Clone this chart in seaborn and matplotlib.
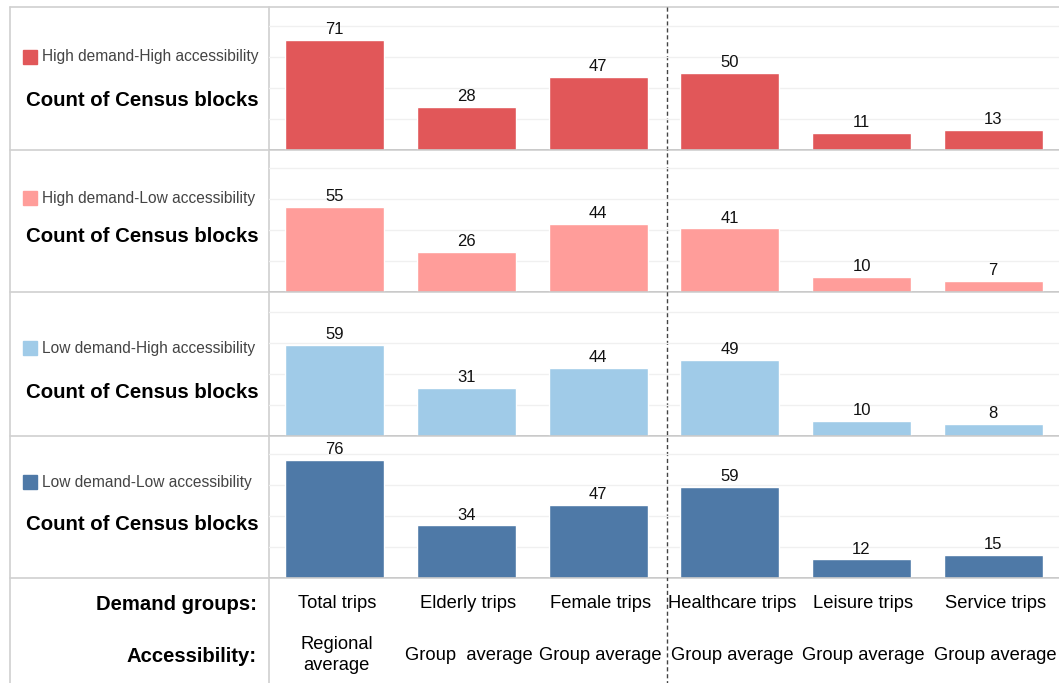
import matplotlib.pyplot as plt
import pandas as pd
import seaborn as sns
from matplotlib.patches import Rectangle

# data
demand_groups = ["Total trips", "Elderly trips", "Female trips",
                 "Healthcare trips", "Leisure trips", "Service trips"]
accessibility = ["Regional\naverage", "Group  average", "Group average",
                 "Group average", "Group average", "Group average"]
segments = ["High demand-High accessibility", "High demand-Low accessibility",
            "Low demand-High accessibility", "Low demand-Low accessibility"]
high_high = [71, 28, 47, 50, 11, 13]
high_low = [55, 26, 44, 41, 10, 7]
low_high = [59, 31, 44, 49, 10, 8]
low_low = [76, 34, 47, 59, 12, 15]
colors = ["#E15759", "#FF9D9A", "#A0CBE8", "#4E79A7"]

W, H = 1059, 683
row_edges = [7, 150, 292, 436, 578]
left_x, split_x = 10, 269
px_per_unit = 1.55

sns.set_theme(style="white")
plt.rcParams["font.family"] = ["Liberation Sans", "DejaVu Sans"]
plt.rcParams["text.color"] = "#000000"

fig = plt.figure(figsize=(W / 100, H / 100), dpi=100)

# background axes in pixel coordinates for the table frame and labels
bg = fig.add_axes([0, 0, 1, 1])
bg.set_xlim(0, W)
bg.set_ylim(H, 0)
bg.axis("off")

line_kw = dict(color="#D0D0D0", lw=1.2, zorder=1)
for y in row_edges:
    bg.plot([left_x, W], [y, y], **line_kw)
bg.plot([left_x, left_x], [row_edges[0], H], **line_kw)
bg.plot([split_x, split_x], [row_edges[0], H], **line_kw)

series = [high_high, high_low, low_high, low_low]
legend_y = [57, 198, 348, 482]
title_y = [100, 237, 392, 524]

for i, (vals, name, col) in enumerate(zip(series, segments, colors)):
    top, bottom = row_edges[i], row_edges[i + 1]
    ax = fig.add_axes([split_x / W, 1 - bottom / H, (W - split_x) / W, (bottom - top) / H])
    ax.set_facecolor("none")
    df = pd.DataFrame({"group": demand_groups, "count": vals})
    sns.barplot(data=df, x="group", y="count", color=col, saturation=1,
                width=0.75, ax=ax, zorder=3)
    ax.bar_label(ax.containers[0], padding=2, fontsize=12, color="#111111")
    ax.set_xlim(-0.5, 5.5)
    ax.set_ylim(0, (bottom - top) / px_per_unit)
    ax.set_yticks([20, 40, 60, 80])
    ax.yaxis.grid(True, color="#F0F0F0", lw=1, zorder=0)
    ax.axhline(0, color="#C8C8C8", lw=1.2, zorder=4)
    ax.set(xlabel="", ylabel="", xticks=[])
    ax.tick_params(left=False, labelleft=False)
    sns.despine(ax=ax, left=True, bottom=True, top=True, right=True)

    # legend swatch and row title
    bg.add_patch(Rectangle((23, legend_y[i] - 7), 14, 14, color=col, zorder=2))
    bg.text(42, legend_y[i], name, fontsize=11.2, color="#444444", va="center")
    bg.text(142, title_y[i], "Count of Census blocks", fontsize=14.7,
            fontweight="bold", ha="center", va="center", color="#000000")

# dashed separator between the group sets
bg.plot([667, 667], [row_edges[0], H], color="#444444", lw=1, ls=(0, (3, 2)), zorder=5)

# bottom table
bg.text(257, 604, "Demand groups:", fontsize=14.6, fontweight="bold", ha="right", va="center")
bg.text(257, 656, "Accessibility:", fontsize=14.6, fontweight="bold", ha="right", va="center")
for j, (g, a) in enumerate(zip(demand_groups, accessibility)):
    cx = split_x + (j + 0.5) * (W - split_x) / 6
    bg.text(cx + 2, 604, g, fontsize=13.2, ha="center", va="center")
    bg.text(cx + 2, 655, a, fontsize=13.2, ha="center", va="center", linespacing=1.35)

plt.savefig("out.png", dpi=100)
plt.close()
